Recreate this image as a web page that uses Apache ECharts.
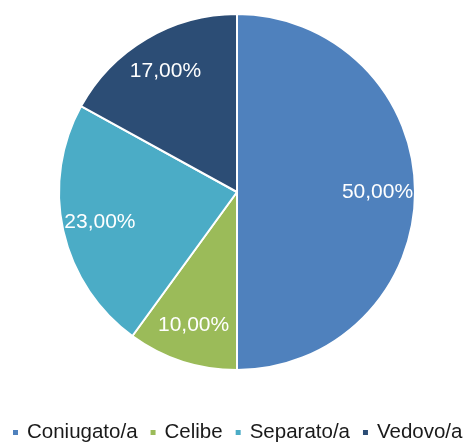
<!DOCTYPE html>
<html><head><meta charset="utf-8">
<script src="https://cdn.jsdelivr.net/npm/echarts@6/dist/echarts.min.js"></script>
<style>html,body{margin:0;padding:0;background:#fff}#c{width:474px;height:442px}</style>
</head><body><div id="c"></div>
<script>
const categories = ['Coniugato/a', 'Celibe', 'Separato/a', 'Vedovo/a'];
const values = [50, 10, 23, 17];
const colors = ['#4F81BD', '#9BBB59', '#4BACC6', '#2C4D75'];

const data = categories.map((n, i) => ({ name: n, value: values[i] }));
const fmt = p => p.value.toFixed(2).replace('.', ',') + '%';
const chart = echarts.init(document.getElementById('c'), null, { renderer: 'canvas' });
chart.setOption({
  animation: false,
  color: colors,
  legend: {
    top: 422, left: 11, padding: 0,
    icon: 'rect', itemWidth: 7, itemHeight: 7, itemGap: 11,
    textStyle: { fontFamily: 'Liberation Sans, Arial', fontSize: 20.5, color: '#1a1a1a', padding: [0, 0, 0, 3] },
    data: categories
  },
  series: [
    {
      type: 'pie', center: [237, 192], radius: [0, 178], startAngle: 90, clockwise: true,
      data: data, label: { show: false }, labelLine: { show: false },
      itemStyle: { borderColor: '#fff', borderWidth: 2 }, silent: true
    },
    {
      type: 'pie', center: [237, 192], radius: [97, 178], startAngle: 90, clockwise: true,
      data: data, silent: true, legendHoverLink: false,
      itemStyle: { color: 'rgba(0,0,0,0)' },
      label: { show: true, position: 'inside', formatter: fmt, color: '#fff', fontFamily: 'Liberation Sans, Arial', fontSize: 21 },
      labelLine: { show: false }
    }
  ]
});
</script></body></html>
